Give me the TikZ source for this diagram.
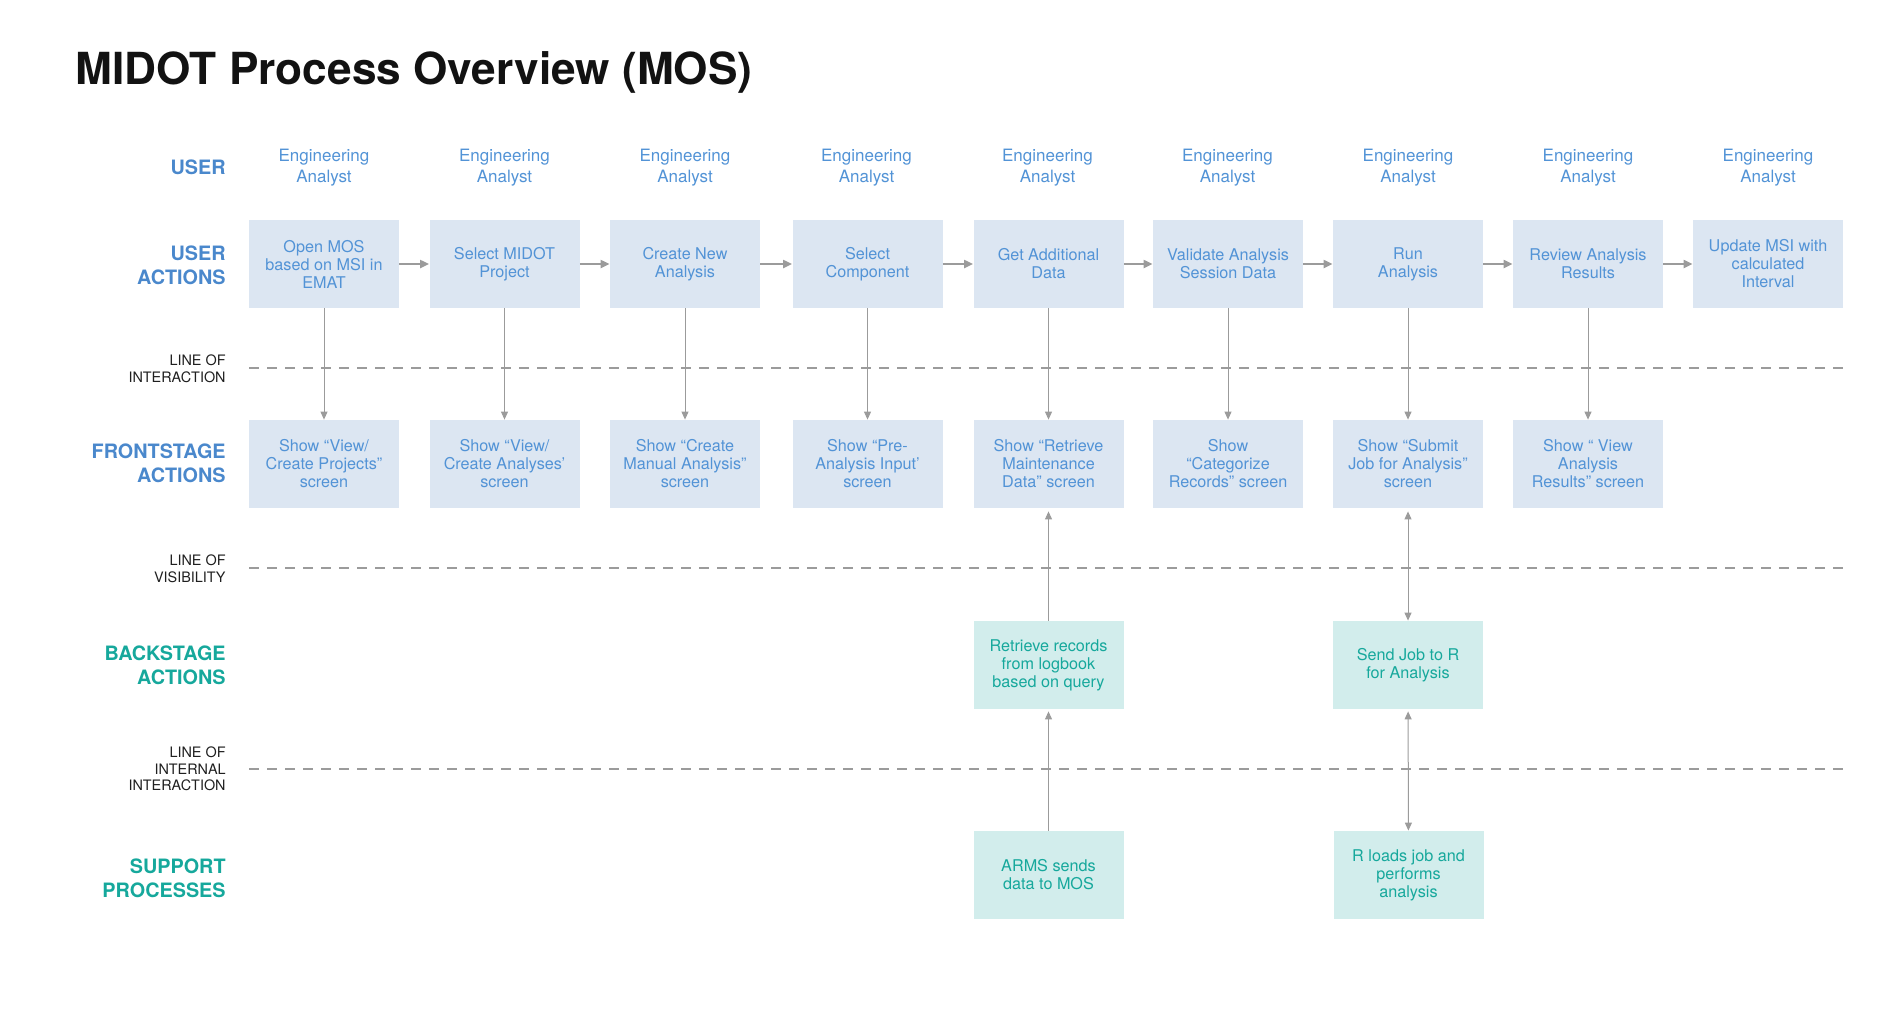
\documentclass[tikz,border=0pt]{standalone}
\usepackage{fontspec}
\setmainfont{TeX Gyre Heros}
\usetikzlibrary{arrows.meta}
\definecolor{boxblue}{RGB}{220,230,242}
\definecolor{txtblue}{RGB}{82,147,214}
\definecolor{lblblue}{RGB}{74,136,204}
\definecolor{boxteal}{RGB}{210,237,236}
\definecolor{txtteal}{RGB}{22,168,156}
\definecolor{arrgray}{RGB}{155,155,155}

\begin{document}
\begin{tikzpicture}[x=0.5pt,y=0.5pt,yscale=-1,xscale=1,
  uabox/.style={fill=boxblue,text=txtblue,minimum width=75pt,minimum height=44pt,inner sep=0pt,align=center,font=\fontsize{8.1pt}{9pt}\selectfont},
  tealbox/.style={uabox,fill=boxteal,text=txtteal},
  rowlbl/.style={anchor=east,align=right,inner sep=0pt,text=lblblue,font=\fontsize{9.9pt}{12pt}\selectfont\bfseries},
  linelbl/.style={anchor=east,align=right,inner sep=0pt,text=black!88,font=\fontsize{7.2pt}{8.3pt}\selectfont},
  usertxt/.style={align=center,inner sep=0pt,text=txtblue,font=\fontsize{8.5pt}{10.5pt}\selectfont},
  harrow/.style={draw=arrgray,line width=1pt,-{Triangle[length=4.5pt,width=4pt]}},
  varrow/.style={draw=arrgray,line width=0.5pt,-{Triangle[length=4pt,width=3.5pt]}},
  varrowtwo/.style={draw=arrgray,line width=0.5pt,{Triangle[length=4pt,width=3.5pt]}-{Triangle[length=4pt,width=3.5pt]}},
  sepline/.style={draw=arrgray,line width=0.65pt,dash pattern=on 5pt off 4pt}
]
%set diagram size to 1900 x 1024
\useasboundingbox (0,0) rectangle (1900,1024);

% Title
\node (title) at (75,84) [anchor=base west,inner sep=0pt,text=black!93,font=\fontsize{22.1pt}{26pt}\selectfont\bfseries] {MIDOT Process Overview (MOS)};

% Row labels
\node (lblUser) at (226,167) [rowlbl] {USER};
\node (lblActions) at (226,265) [rowlbl] {USER\\ACTIONS};
\node (lblInteract) at (226,369) [linelbl] {LINE OF\\INTERACTION};
\node (lblFront) at (226,463) [rowlbl] {FRONTSTAGE\\ACTIONS};
\node (lblVisible) at (226,569) [linelbl] {LINE OF\\VISIBILITY};
\node (lblBack) at (226,665) [rowlbl,text=txtteal] {BACKSTAGE\\ACTIONS};
\node (lblInternal) at (226,769) [linelbl] {LINE OF\\INTERNAL\\INTERACTION};
\node (lblSupport) at (226,878) [rowlbl,text=txtteal] {SUPPORT\\PROCESSES};

% Lines of interaction / visibility / internal interaction
\draw [sepline] (249,368) -- (1843,368);
\draw [sepline] (249,568) -- (1843,568);
\draw [sepline] (249,769) -- (1843,769);

% Text Node: user
\node (usr1) at (324,168) [usertxt] {Engineering\\Analyst};
\node (usr2) at (504.5,168) [usertxt] {Engineering\\Analyst};
\node (usr3) at (685,168) [usertxt] {Engineering\\Analyst};
\node (usr4) at (866.5,168) [usertxt] {Engineering\\Analyst};
\node (usr5) at (1047.5,168) [usertxt] {Engineering\\Analyst};
\node (usr6) at (1227.5,168) [usertxt] {Engineering\\Analyst};
\node (usr7) at (1408,168) [usertxt] {Engineering\\Analyst};
\node (usr8) at (1588,168) [usertxt] {Engineering\\Analyst};
\node (usr9) at (1768,168) [usertxt] {Engineering\\Analyst};

%Shape: Rectangle - user actions
\node (ua1) at (324,264) [uabox] {Open MOS\\based on MSI in\\EMAT};
\node (ua2) at (504.5,264) [uabox] {Select MIDOT\\Project};
\node (ua3) at (685,264) [uabox] {Create New\\Analysis};
\node (ua4) at (867.5,264) [uabox] {Select\\Component};
\node (ua5) at (1048.5,264) [uabox] {Get Additional\\Data};
\node (ua6) at (1228,264) [uabox] {Validate Analysis\\Session Data};
\node (ua7) at (1408,264) [uabox] {Run\\Analysis};
\node (ua8) at (1588,264) [uabox] {Review Analysis\\Results};
\node (ua9) at (1768,264) [uabox] {Update MSI with\\calculated\\Interval};

%Shape: Rectangle - frontstage actions
\node (fs1) at (324,464) [uabox] {Show “View/\\Create Projects”\\screen};
\node (fs2) at (504.5,464) [uabox] {Show “View/\\Create Analyses’\\screen};
\node (fs3) at (685,464) [uabox] {Show “Create\\Manual Analysis”\\screen};
\node (fs4) at (867.5,464) [uabox] {Show “Pre-\\Analysis Input’\\screen};
\node (fs5) at (1048.5,464) [uabox] {Show “Retrieve\\Maintenance\\Data” screen};
\node (fs6) at (1228,464) [uabox] {Show\\“Categorize\\Records” screen};
\node (fs7) at (1408,464) [uabox] {Show “Submit\\Job for Analysis”\\screen};
\node (fs8) at (1588,464) [uabox] {Show “ View\\Analysis\\Results” screen};

%Shape: Rectangle - backstage actions
\node (bs5) at (1048.5,665) [tealbox] {Retrieve records\\from logbook\\based on query};
\node (bs7) at (1408,665) [tealbox] {Send Job to R\\for Analysis};

%Shape: Rectangle - support processes
\node (sp5) at (1048.5,875) [tealbox] {ARMS sends\\data to MOS};
\node (sp7) at (1408.5,875) [tealbox] {R loads job and\\performs\\analysis};

% Arrows between user actions
\draw [harrow] (ua1) -- (ua2);
\draw [harrow] (ua2) -- (ua3);
\draw [harrow] (ua3) -- (ua4);
\draw [harrow] (ua4) -- (ua5);
\draw [harrow] (ua5) -- (ua6);
\draw [harrow] (ua6) -- (ua7);
\draw [harrow] (ua7) -- (ua8);
\draw [harrow] (ua8) -- (ua9);

% Arrows down to frontstage
\draw [varrow] (ua1) -- (fs1);
\draw [varrow] (ua2) -- (fs2);
\draw [varrow] (ua3) -- (fs3);
\draw [varrow] (ua4) -- (fs4);
\draw [varrow] (ua5) -- (fs5);
\draw [varrow] (ua6) -- (fs6);
\draw [varrow] (ua7) -- (fs7);
\draw [varrow] (ua8) -- (fs8);

% Arrows to backstage and support
\draw [varrow,shorten >=1.5pt] (bs5) -- (fs5);
\draw [varrow,shorten >=1pt] (sp5) -- (bs5);
\draw [varrowtwo,shorten <=1.5pt] (fs7) -- (bs7);
\draw [varrowtwo,shorten <=1pt] (bs7) -- (sp7);

\end{tikzpicture}
\end{document}
